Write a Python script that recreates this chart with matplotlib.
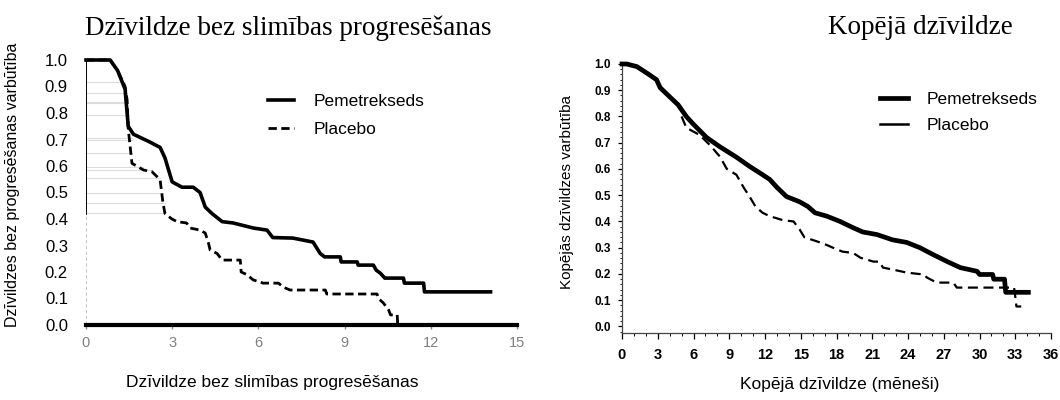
import matplotlib
matplotlib.use("Agg")
import matplotlib.pyplot as plt
import matplotlib.ticker as mticker
import numpy as np

# --- progression-free survival (left panel), months / probability, traced vertices ---
pfs_pem_t = [0, 0.84, 1.1, 1.36, 1.47, 1.65, 2.23, 2.58, 2.75, 2.86, 3.0, 3.34, 3.73,
             3.97, 4.15, 4.39, 4.74, 5.12, 5.82, 6.3, 6.5, 7.2, 7.9, 8.15, 8.3, 8.85,
             8.88, 9.44, 9.47, 10.0, 10.1, 10.24, 10.4, 11.05, 11.08, 11.75, 11.78, 14.08]
pfs_pem_s = [1.0, 1.0, 0.96, 0.89, 0.75, 0.72, 0.69, 0.67, 0.63, 0.59, 0.54, 0.52, 0.52,
             0.50, 0.445, 0.42, 0.39, 0.385, 0.366, 0.358, 0.33, 0.328, 0.313, 0.27, 0.257, 0.257,
             0.238, 0.238, 0.226, 0.226, 0.207, 0.196, 0.177, 0.177, 0.158, 0.158, 0.125, 0.125]

pfs_pla_t = [0, 0.84, 1.1, 1.36, 1.43, 1.47, 1.6, 2.0, 2.3, 2.47, 2.58, 2.68, 2.75, 2.99,
             3.17, 3.5, 3.62, 3.97, 4.15, 4.26, 4.32, 4.56, 4.74, 5.37, 5.4, 5.6, 5.82,
             6.17, 6.7, 6.86, 7.1, 8.33, 8.38, 10.13, 10.18, 10.35, 10.53, 10.6, 10.83, 10.85]
pfs_pla_s = [1.0, 1.0, 0.96, 0.90, 0.85, 0.74, 0.61, 0.585, 0.578, 0.56, 0.547, 0.46, 0.42, 0.40,
             0.39, 0.385, 0.366, 0.358, 0.347, 0.31, 0.283, 0.27, 0.245, 0.245, 0.2, 0.19, 0.17,
             0.158, 0.158, 0.143, 0.132, 0.132, 0.117, 0.117, 0.10, 0.083, 0.057, 0.038, 0.038, 0.0]

# faint scan lines seen on the left panel
ghost_levels = [0.917, 0.875, 0.842, 0.838, 0.792, 0.706, 0.698, 0.649, 0.596,
                0.585, 0.555, 0.498, 0.46, 0.423]

# --- overall survival (right panel) ---
os_pem_t = [0, 0.4, 1.25, 2.1, 2.9, 3.2, 4.0, 4.7, 5.4, 6.0, 7.1, 8.2, 9.6, 10.7,
            11.8, 12.4, 13.0, 13.8, 14.9, 15.6, 16.2, 17.2, 18.3, 19.4, 20.2, 21.4,
            22.7, 23.9, 25.0, 26.1, 27.3, 28.4, 29.8, 30.0, 31.1, 31.2, 32.1, 32.2, 34.1]
os_pem_s = [1.0, 1.0, 0.99, 0.965, 0.94, 0.91, 0.875, 0.845, 0.80, 0.77, 0.72, 0.685,
            0.645, 0.61, 0.578, 0.56, 0.53, 0.495, 0.475, 0.457, 0.433, 0.42, 0.40, 0.376,
            0.36, 0.35, 0.33, 0.32, 0.30, 0.274, 0.247, 0.224, 0.21, 0.198, 0.198, 0.18,
            0.18, 0.13, 0.13]

os_pla_t = [5.0, 5.4, 6.5, 7.4, 8.2, 8.8, 9.6, 10.2, 10.7, 11.2, 11.8, 12.4, 13.5,
            14.4, 14.9, 15.3, 16.3, 17.2, 17.7, 18.5, 19.4, 20.0, 21.1, 21.6, 21.9,
            22.7, 23.9, 25.3, 25.6, 26.4, 27.8, 28.1, 32.9, 33.0, 33.1, 33.5]
os_pla_s = [0.80, 0.757, 0.73, 0.69, 0.648, 0.60, 0.578, 0.53, 0.495, 0.457, 0.433,
            0.42, 0.405, 0.40, 0.37, 0.34, 0.325, 0.31, 0.30, 0.285, 0.28, 0.262, 0.247,
            0.247, 0.224, 0.217, 0.205, 0.198, 0.186, 0.167, 0.167, 0.148, 0.148, 0.114,
            0.076, 0.076]

labels = ["Pemetrekseds", "Placebo"]
title_left = "Dzīvildze bez slimības progresēšanas"
title_right = "Kopējā dzīvildze"
ylabel_left = "Dzīvildzes bez progresēšanas varbūtība"
xlabel_left = "Dzīvildze bez slimības progresēšanas"
ylabel_right = "Kopējās dzīvildzes varbūtība"
xlabel_right = "Kopējā dzīvildze (mēneši)"

sans = ["Liberation Sans", "DejaVu Sans"]
narrow = ["Liberation Sans Narrow", "Liberation Sans", "DejaVu Sans"]
serif = ["Liberation Serif", "DejaVu Serif"]
plt.rcParams["font.family"] = sans

fig = plt.figure(figsize=(10.6, 4), dpi=100)
W, H = 1060, 400

# ---------------- left panel ----------------
ax1 = fig.add_axes([86 / W, 1 - 325 / H, (517 - 86) / W, (325 - 60) / H])
ax1.set_xlim(0, 15)
ax1.set_ylim(0, 1.0)

# ghost lines end where the placebo curve falls below their level
pla_t = np.array(pfs_pla_t)
pla_s = np.array(pfs_pla_s)
for lvl in ghost_levels:
    xe = pla_t[np.argmax(pla_s < lvl)]
    ax1.plot([0, xe], [lvl, lvl], color="#dcdcdc", lw=0.8, zorder=1)

ax1.plot(pfs_pem_t, pfs_pem_s, color="black", lw=2.6,
         clip_on=False, zorder=3, label=labels[0])
ax1.plot(pfs_pla_t, pfs_pla_s, color="black", lw=2.0,
         ls=(0, (3, 1.6)), clip_on=False, zorder=3, label=labels[1])
ax1.plot([0, 0], [0.42, 1.0], color="black", lw=1.4, zorder=2)
ax1.plot([0, 0], [0.0, 0.42], color="#bbbbbb", lw=1.2, ls=(0, (2, 1.5)), zorder=2)
ax1.plot([0, 15], [0, 0], color="black", lw=3.0, clip_on=False, zorder=4)

for s in ["top", "right", "left", "bottom"]:
    ax1.spines[s].set_visible(False)
ax1.set_xticks([0, 3, 6, 9, 12, 15])
ax1.set_yticks(np.arange(0, 1.01, 0.1))
ax1.yaxis.set_major_formatter(mticker.FormatStrFormatter("%.1f"))
ax1.tick_params(axis="x", length=3, width=1, color="#888888", pad=5,
                labelsize=10.5, labelcolor="#808080")
ax1.tick_params(axis="y", length=0, pad=13, labelsize=12)

leg1 = ax1.legend(loc="upper left", bbox_to_anchor=(268 / W, 1 - 94 / H),
                  bbox_transform=fig.transFigure, frameon=False, fontsize=12.5,
                  handlelength=1.5, handletextpad=1.1, labelspacing=0.75,
                  borderpad=0, borderaxespad=0)

fig.text(288 / W, 1 - 35 / H, title_left, family=serif, fontsize=19.5,
         ha="center", va="baseline")
fig.text(13 / W, 1 - 185 / H, ylabel_left, rotation=90, fontsize=11.5,
         ha="center", va="center")
fig.text(272 / W, 1 - 383 / H, xlabel_left, fontsize=12.5,
         ha="center", va="center")

# ---------------- right panel ----------------
ax2 = fig.add_axes([622 / W, 1 - 333 / H, (1051 - 622) / W, (333 - 64) / H])
ax2.set_xlim(0, 36)
ax2.set_ylim(-0.025, 1.0)

ax2.plot(os_pem_t, os_pem_s, color="black", lw=3.4,
         clip_on=False, zorder=3, label=labels[0])
ax2.plot(os_pla_t, os_pla_s, color="black", lw=1.6,
         ls=(0, (4.5, 2.5)), clip_on=False, zorder=2)
# legend shows placebo as a solid thinner line
ax2.plot([], [], color="black", lw=1.8, label=labels[1])

for s in ["top", "right"]:
    ax2.spines[s].set_visible(False)
for s in ["left", "bottom"]:
    ax2.spines[s].set_color("#444444")
    ax2.spines[s].set_linewidth(0.9)
ax2.set_xticks(np.arange(0, 37, 3))
ax2.xaxis.set_minor_locator(mticker.MultipleLocator(1))
ax2.set_yticks(np.arange(0, 1.01, 0.1))
ax2.yaxis.set_minor_locator(mticker.MultipleLocator(0.02))
ax2.yaxis.set_major_formatter(mticker.FormatStrFormatter("%.1f"))
ax2.tick_params(axis="x", which="major", length=4, width=0.9, pad=7)
ax2.tick_params(axis="x", which="minor", length=2.5, width=0.7)
ax2.tick_params(axis="y", which="major", length=3, width=0.9, pad=5)
ax2.tick_params(axis="y", which="minor", length=1.5, width=0.6)
for lab in ax2.get_xticklabels():
    lab.set_family(narrow)
    lab.set_fontweight("bold")
    lab.set_fontsize(10.5)
for lab in ax2.get_yticklabels():
    lab.set_family(narrow)
    lab.set_fontweight("bold")
    lab.set_fontsize(8.5)

leg2 = ax2.legend(loc="upper left", bbox_to_anchor=(880 / W, 1 - 92 / H),
                  bbox_transform=fig.transFigure, frameon=False, fontsize=12.5,
                  handlelength=1.6, handletextpad=1.1, labelspacing=0.6,
                  borderpad=0, borderaxespad=0)

fig.text(920 / W, 1 - 34 / H, title_right, family=serif, fontsize=19.5,
         ha="center", va="baseline")
fig.text(567 / W, 1 - 192 / H, ylabel_right, rotation=90, fontsize=11,
         ha="center", va="center")
fig.text(840 / W, 1 - 385 / H, xlabel_right, fontsize=12.5,
         ha="center", va="center")

fig.savefig("out.png", dpi=100)
